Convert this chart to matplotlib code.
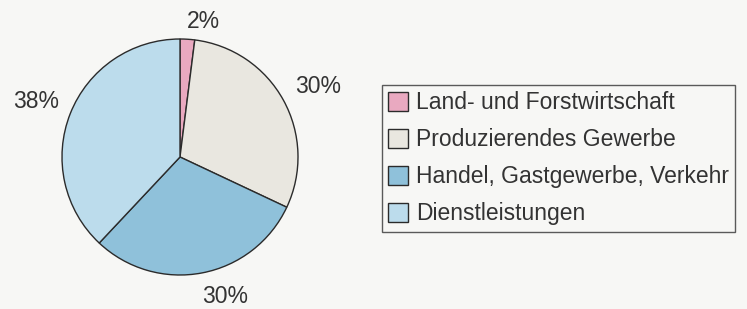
import matplotlib.pyplot as plt
import matplotlib as mpl

mpl.rc('font', family=['Liberation Sans', 'DejaVu Sans'])

sectors = ["Land- und Forstwirtschaft", "Produzierendes Gewerbe",
           "Handel, Gastgewerbe, Verkehr", "Dienstleistungen"]
shares = [2, 30, 30, 38]
colors = ["#e9a9c0", "#e9e7e0", "#8fc1da", "#bcdcec"]
bg = "#f7f7f5"
fs = 16.5

W, H = 747, 309
fig = plt.figure(figsize=(W/100, H/100), dpi=100, facecolor=bg)

# pie centre (180,157) px, radius 118 px
cx, cy, r = 180, 157, 118
ax = fig.add_axes([(cx - r)/W, (H - cy - r)/H, 2*r/W, 2*r/H])
ax.set_facecolor(bg)

wedges, texts, autotexts = ax.pie(
    shares, colors=colors, startangle=90, counterclock=False,
    autopct='%d%%', pctdistance=1.3,
    wedgeprops=dict(edgecolor='#2b2b2b', linewidth=1.0),
    textprops=dict(fontsize=fs, color='#333333'))
ax.set_xlim(-1, 1)
ax.set_ylim(-1, 1)
ax.set_aspect('equal')
for t in autotexts:
    t.set_clip_on(False)

# nudge labels to match the original placement
autotexts[0].set_position((0.2, 1.15))
autotexts[1].set_position((1.17, 0.6))
autotexts[2].set_position((0.38, -1.18))
autotexts[3].set_position((-1.22, 0.47))

leg = fig.legend(wedges, sectors, loc='upper left',
                 bbox_to_anchor=(382/W, 1 - 85/H),
                 fontsize=fs, frameon=True, fancybox=False,
                 handlelength=0.85, handleheight=0.85, handletextpad=0.35,
                 labelspacing=0.61, borderpad=0.28, borderaxespad=0)
leg.get_frame().set_edgecolor('#333333')
leg.get_frame().set_facecolor(bg)
leg.get_frame().set_linewidth(1.0)
for t in leg.get_texts():
    t.set_color('#333333')

fig.savefig('out.png', dpi=100, facecolor=bg)
